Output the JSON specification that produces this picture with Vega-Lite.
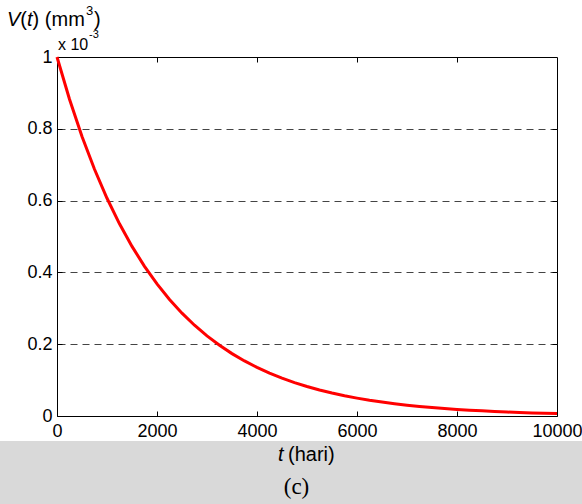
{
  "$schema": "https://vega.github.io/schema/vega-lite/v6.json",
  "width": 500,
  "height": 359,
  "autosize": {"type": "none"},
  "padding": {"left": 57, "top": 57, "right": 25, "bottom": 88},
  "background": "white",
  "config": {
    "view": {"stroke": "black", "strokeWidth": 1},
    "axis": {
      "labelFont": "Liberation Sans",
      "labelFontSize": 18,
      "labelColor": "black",
      "tickColor": "black",
      "tickWidth": 1,
      "domain": false,
      "labelFlush": false,
      "labelOverlap": false,
      "labelBound": false
    },
    "text": {"font": "Liberation Sans", "color": "black", "align": "left", "baseline": "alphabetic"}
  },
  "datasets": {
    "volume": [
      {"t": 0, "V": 1.0},
      {"t": 250, "V": 0.8825},
      {"t": 500, "V": 0.7788},
      {"t": 750, "V": 0.6873},
      {"t": 1000, "V": 0.6065},
      {"t": 1250, "V": 0.5353},
      {"t": 1500, "V": 0.4724},
      {"t": 1750, "V": 0.4169},
      {"t": 2000, "V": 0.3679},
      {"t": 2250, "V": 0.3247},
      {"t": 2500, "V": 0.2865},
      {"t": 2750, "V": 0.2528},
      {"t": 3000, "V": 0.2231},
      {"t": 3250, "V": 0.1969},
      {"t": 3500, "V": 0.1738},
      {"t": 3750, "V": 0.1534},
      {"t": 4000, "V": 0.1353},
      {"t": 4250, "V": 0.1194},
      {"t": 4500, "V": 0.1054},
      {"t": 4750, "V": 0.093},
      {"t": 5000, "V": 0.0821},
      {"t": 5250, "V": 0.0724},
      {"t": 5500, "V": 0.0639},
      {"t": 5750, "V": 0.0564},
      {"t": 6000, "V": 0.0498},
      {"t": 6250, "V": 0.0439},
      {"t": 6500, "V": 0.0388},
      {"t": 6750, "V": 0.0342},
      {"t": 7000, "V": 0.0302},
      {"t": 7250, "V": 0.0266},
      {"t": 7500, "V": 0.0235},
      {"t": 7750, "V": 0.0208},
      {"t": 8000, "V": 0.0183},
      {"t": 8250, "V": 0.0162},
      {"t": 8500, "V": 0.0143},
      {"t": 8750, "V": 0.0126},
      {"t": 9000, "V": 0.0111},
      {"t": 9250, "V": 0.0098},
      {"t": 9500, "V": 0.0087},
      {"t": 9750, "V": 0.0076},
      {"t": 10000, "V": 0.0067}
    ]
  },
  "resolve": {"axis": {"x": "independent", "y": "independent"}},
  "layer": [
    {
      "description": "grey page band below the figure",
      "data": {"values": [{}]},
      "mark": {"type": "rect", "color": "#d9d9d9"},
      "encoding": {
        "x": {"datum": -2000, "type": "quantitative", "scale": {"domain": [0, 10000], "nice": false}, "axis": null},
        "x2": {"datum": 12000},
        "y": {"datum": -0.0696, "type": "quantitative", "scale": {"domain": [0, 1], "nice": false}, "axis": null},
        "y2": {"datum": -0.5}
      }
    },
    {
      "description": "volume decay curve with bottom and left axes",
      "data": {"name": "volume"},
      "mark": {"type": "line", "color": "#ff0000", "strokeWidth": 3},
      "encoding": {
        "x": {
          "field": "t", "type": "quantitative",
          "scale": {"domain": [0, 10000], "nice": false},
          "axis": {"orient": "bottom", "title": null, "values": [0, 2000, 4000, 6000, 8000, 10000], "format": "d", "tickSize": -5, "labelPadding": 11, "grid": false}
        },
        "y": {
          "field": "V", "type": "quantitative",
          "scale": {"domain": [0, 1], "nice": false},
          "axis": {"orient": "left", "title": null, "values": [0, 0.2, 0.4, 0.6, 0.8, 1], "format": ".1~f", "tickSize": -5, "labelPadding": 10, "grid": false}
        }
      }
    },
    {
      "description": "top ticks, right ticks and dashed grid",
      "data": {"name": "volume"},
      "mark": {"type": "point", "opacity": 0},
      "encoding": {
        "x": {
          "field": "t", "type": "quantitative",
          "scale": {"domain": [0, 10000], "nice": false},
          "axis": {"orient": "top", "title": null, "values": [2000, 4000, 6000, 8000], "labels": false, "tickSize": -5, "grid": false}
        },
        "y": {
          "field": "V", "type": "quantitative",
          "scale": {"domain": [0, 1], "nice": false},
          "axis": {"orient": "right", "title": null, "values": [0.2, 0.4, 0.6, 0.8], "labels": false, "tickSize": -5, "grid": true, "gridColor": "#444444", "gridWidth": 1, "gridDash": [7, 5], "gridOpacity": 1}
        }
      }
    },
    {
      "data": {"values": [{}]},
      "mark": {"type": "text", "text": "V", "fontSize": 20, "fontStyle": "italic", "dx": -50, "dy": -31},
      "encoding": {
        "x": {"datum": 0, "type": "quantitative", "scale": {"domain": [0, 10000], "nice": false}, "axis": null},
        "y": {"datum": 1, "type": "quantitative", "scale": {"domain": [0, 1], "nice": false}, "axis": null}
      }
    },
    {
      "data": {"values": [{}]},
      "mark": {"type": "text", "text": "(", "fontSize": 20, "dx": -36.7, "dy": -31},
      "encoding": {
        "x": {"datum": 0, "type": "quantitative", "scale": {"domain": [0, 10000], "nice": false}, "axis": null},
        "y": {"datum": 1, "type": "quantitative", "scale": {"domain": [0, 1], "nice": false}, "axis": null}
      }
    },
    {
      "data": {"values": [{}]},
      "mark": {"type": "text", "text": "t", "fontSize": 20, "fontStyle": "italic", "dx": -30, "dy": -31},
      "encoding": {
        "x": {"datum": 0, "type": "quantitative", "scale": {"domain": [0, 10000], "nice": false}, "axis": null},
        "y": {"datum": 1, "type": "quantitative", "scale": {"domain": [0, 1], "nice": false}, "axis": null}
      }
    },
    {
      "data": {"values": [{}]},
      "mark": {"type": "text", "text": ") (mm", "fontSize": 20, "dx": -24.4, "dy": -31},
      "encoding": {
        "x": {"datum": 0, "type": "quantitative", "scale": {"domain": [0, 10000], "nice": false}, "axis": null},
        "y": {"datum": 1, "type": "quantitative", "scale": {"domain": [0, 1], "nice": false}, "axis": null}
      }
    },
    {
      "data": {"values": [{}]},
      "mark": {"type": "text", "text": "3", "fontSize": 13, "dx": 29, "dy": -42},
      "encoding": {
        "x": {"datum": 0, "type": "quantitative", "scale": {"domain": [0, 10000], "nice": false}, "axis": null},
        "y": {"datum": 1, "type": "quantitative", "scale": {"domain": [0, 1], "nice": false}, "axis": null}
      }
    },
    {
      "data": {"values": [{}]},
      "mark": {"type": "text", "text": ")", "fontSize": 20, "dx": 37, "dy": -31},
      "encoding": {
        "x": {"datum": 0, "type": "quantitative", "scale": {"domain": [0, 10000], "nice": false}, "axis": null},
        "y": {"datum": 1, "type": "quantitative", "scale": {"domain": [0, 1], "nice": false}, "axis": null}
      }
    },
    {
      "data": {"values": [{}]},
      "mark": {"type": "text", "text": "x 10", "fontSize": 16, "dx": 1, "dy": -7},
      "encoding": {
        "x": {"datum": 0, "type": "quantitative", "scale": {"domain": [0, 10000], "nice": false}, "axis": null},
        "y": {"datum": 1, "type": "quantitative", "scale": {"domain": [0, 1], "nice": false}, "axis": null}
      }
    },
    {
      "data": {"values": [{}]},
      "mark": {"type": "text", "text": "-3", "fontSize": 11, "dx": 32, "dy": -19},
      "encoding": {
        "x": {"datum": 0, "type": "quantitative", "scale": {"domain": [0, 10000], "nice": false}, "axis": null},
        "y": {"datum": 1, "type": "quantitative", "scale": {"domain": [0, 1], "nice": false}, "axis": null}
      }
    },
    {
      "data": {"values": [{}]},
      "mark": {"type": "text", "text": "t", "fontSize": 20, "fontStyle": "italic", "dx": 221, "dy": 45},
      "encoding": {
        "x": {"datum": 0, "type": "quantitative", "scale": {"domain": [0, 10000], "nice": false}, "axis": null},
        "y": {"datum": 0, "type": "quantitative", "scale": {"domain": [0, 1], "nice": false}, "axis": null}
      }
    },
    {
      "data": {"values": [{}]},
      "mark": {"type": "text", "text": "(hari)", "fontSize": 20, "dx": 231, "dy": 45},
      "encoding": {
        "x": {"datum": 0, "type": "quantitative", "scale": {"domain": [0, 10000], "nice": false}, "axis": null},
        "y": {"datum": 0, "type": "quantitative", "scale": {"domain": [0, 1], "nice": false}, "axis": null}
      }
    },
    {
      "data": {"values": [{}]},
      "mark": {"type": "text", "text": "(c)", "font": "Liberation Serif", "fontSize": 23, "align": "center", "dx": 239.5, "dy": 78},
      "encoding": {
        "x": {"datum": 0, "type": "quantitative", "scale": {"domain": [0, 10000], "nice": false}, "axis": null},
        "y": {"datum": 0, "type": "quantitative", "scale": {"domain": [0, 1], "nice": false}, "axis": null}
      }
    }
  ]
}
